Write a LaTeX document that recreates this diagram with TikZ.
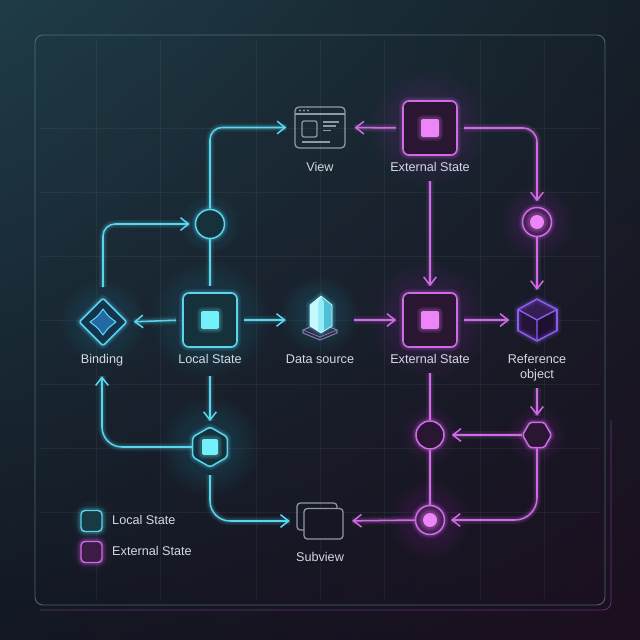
\documentclass[tikz,border=0pt]{standalone}
\usepackage{fontspec}
\setmainfont{Liberation Sans}
\usetikzlibrary{arrows.meta,shapes.geometric,calc,shadings}
\definecolor{cy}{HTML}{58D6EE}
\definecolor{cyb}{HTML}{74F0FA}
\definecolor{mg}{HTML}{D06AE6}
\definecolor{mgb}{HTML}{EB85F8}
\definecolor{cyfill}{HTML}{15313B}
\definecolor{mgfill}{HTML}{2A1533}
\definecolor{mgdark}{HTML}{4A2157}
\definecolor{bindfill}{HTML}{14344C}
\definecolor{bindin}{HTML}{2468A4}
\definecolor{txt}{HTML}{D3D9E1}
\definecolor{iconc}{HTML}{8E99A5}
\definecolor{vio}{HTML}{8C5CEE}
\definecolor{bgUL}{HTML}{1F3C47}
\definecolor{bgUR}{HTML}{152029}
\definecolor{bgLL}{HTML}{121722}
\definecolor{bgLR}{HTML}{1C0E1F}
\definecolor{framec}{HTML}{587884}
\definecolor{platec}{HTML}{7C7CA6}
\definecolor{platef}{HTML}{282842}
\definecolor{crysA}{HTML}{96ECF6}
\definecolor{crysL}{HTML}{C4F8FC}
\definecolor{crysR}{HTML}{50BED4}
\definecolor{crysE}{HTML}{C8FAFF}
\definecolor{cubeT}{HTML}{341E54}
\definecolor{cubeL}{HTML}{24143A}
\definecolor{cubeR}{HTML}{1E1030}
\definecolor{subf}{HTML}{161624}
\definecolor{legcf}{HTML}{183A44}
\definecolor{legmf}{HTML}{3A1C44}
\newcommand\myhalo[4]{\foreach \k in {1,...,14}{\fill[#4,opacity=0.013] (#1,#2) circle[radius={(#3)*(0.4+0.065*\k)*0.3mm}];}}
\tikzset{
  glow/.style={preaction={draw=#1,opacity=0.09,line width=7pt,-},preaction={draw=#1,opacity=0.16,line width=4pt,-}},
  cline/.style={draw=cy,line width=1.3pt,glow=cy},
  mline/.style={draw=mg,line width=1.3pt,glow=mg},
  arr/.style={-{Straight Barb[length=2.4mm,width=3.8mm]}},
  cbox/.style={rectangle,minimum size=16.2mm,inner sep=0,rounded corners=1.8mm,draw=cy,fill=cyfill,line width=1.4pt,glow=cy},
  mbox/.style={rectangle,minimum size=16.2mm,inner sep=0,rounded corners=1.8mm,draw=mg,fill=mgfill,line width=1.4pt,glow=mg},
  csq/.style={rectangle,minimum size=5.4mm,inner sep=0,rounded corners=0.6mm,fill=cyb,glow=cyb},
  msq/.style={rectangle,minimum size=5.4mm,inner sep=0,rounded corners=0.6mm,fill=mgb,glow=mgb},
  lbl/.style={text=txt,font=\fontsize{10.8}{12.8}\selectfont,inner sep=1pt,text height=8pt,text depth=2.5pt},
  lbl2/.style={text=txt,font=\fontsize{10.8}{12.8}\selectfont,inner sep=1pt,align=center},
  iconln/.style={draw=iconc,line width=1.1pt},
}
\begin{document}
\begin{tikzpicture}[x=0.3mm,y=-0.3mm]
\useasboundingbox (0,0) rectangle (640,640);
\shade[upper left=bgUL,upper right=bgUR,lower left=bgLL,lower right=bgLR] (0,0) rectangle (640,640);
% grid
\foreach \g in {128,192,256,320,384,448,512}
  \draw[white,opacity=0.05,line width=0.5pt] (40,\g) -- (600,\g);
\foreach \g in {96,160,256,320,384,480,544}
  \draw[white,opacity=0.05,line width=0.5pt] (\g,40) -- (\g,600);
% frame
\draw[mg,opacity=0.4,line width=0.7pt,rounded corners=2.4mm] (611,420) -- (611,610) -- (40,610);
\draw[framec,opacity=0.8,line width=0.8pt,rounded corners=2.4mm] (35,35) rectangle (605,605);
% halos
\myhalo{210}{320}{45}{cy}
\myhalo{210}{447}{38}{cy}
\myhalo{320}{315}{30}{cy}
\myhalo{210}{224}{22}{cy}
\myhalo{103}{322}{32}{cy}
\myhalo{430}{128}{45}{mg}
\myhalo{430}{320}{45}{mg}
\myhalo{430}{520}{30}{mg}
\myhalo{537}{222}{28}{mg}
\myhalo{430}{435}{22}{mg}
\myhalo{537}{435}{22}{mg}
\myhalo{91.5}{521}{16}{cy}
\myhalo{91.5}{552}{16}{mg}

% ---- nodes ----
\node[cbox] (local) at (210,320) {};
\node[csq] at (local) {};
\node[mbox] (ext1) at (430,128) {};
\node[msq] at (ext1) {};
\node[mbox] (ext2) at (430,320) {};
\node[msq] at (ext2) {};
\node[circle,minimum size=8.7mm,inner sep=0,draw=cy,fill=cyfill,line width=1.3pt,glow=cy] (c1) at (210,224) {};
\node[circle,minimum size=8.7mm,inner sep=0,draw=mg,fill=mgdark,line width=1.3pt,glow=mg] (m1) at (537,222) {};
\node[circle,minimum size=4.2mm,inner sep=0,fill=mgb,glow=mgb] at (m1) {};
\node[circle,minimum size=8.4mm,inner sep=0,draw=mg,fill=mgfill,line width=1.3pt,glow=mg] (m2) at (430,435) {};
\node[circle,minimum size=8.7mm,inner sep=0,draw=mg,fill=mgdark,line width=1.3pt,glow=mg] (dot) at (430,520) {};
\node[circle,minimum size=4.2mm,inner sep=0,fill=mgb,glow=mgb] at (dot) {};
\node[regular polygon,regular polygon sides=6,shape border rotate=90,minimum size=12mm,inner sep=0,draw=cy,fill=cyfill,line width=1.3pt,rounded corners=0.8mm,glow=cy] (hexc) at (210,447) {};
\node[rectangle,minimum size=4.8mm,inner sep=0,rounded corners=0.6mm,fill=cyb,glow=cyb] at (hexc) {};
\node[regular polygon,regular polygon sides=6,minimum size=8.7mm,inner sep=0,draw=mg,fill=mgfill,line width=1.3pt,rounded corners=0.5mm,glow=mg] (hexm) at (537,435) {};
\node[diamond,aspect=1,minimum width=14.4mm,minimum height=14.4mm,inner sep=0,draw=cy,fill=bindfill,line width=1.3pt,rounded corners=0.6mm,glow=cy] (binding) at (103,322) {};
\draw[cy,line width=0.9pt,fill=bindin,line join=round] (103,309) .. controls (108,316) .. (116,322) .. controls (108,328) .. (103,335) .. controls (98,328) .. (90,322) .. controls (98,316) .. cycle;

% view icon
\node[rectangle,minimum width=15mm,minimum height=12.3mm,inner sep=0,iconln,rounded corners=1.2mm] (view) at (320,127.5) {};
\draw[iconln,line width=1pt] (295,114) -- (345,114);
\foreach \xx in {300,304,308} \fill[iconc] (\xx,110.5) circle[radius=0.35mm];
\draw[iconln,rounded corners=0.6mm] (302,121) rectangle (317,137);
\draw[iconln] (323,122) -- (339,122);
\draw[iconln] (323,126) -- (336,126);
\draw[iconln] (323,130.5) -- (331,130.5);
\draw[iconln] (302,142) -- (330,142);

% data source
\node[minimum width=12mm,minimum height=14.4mm,inner sep=0] (data) at (320,320) {};
\draw[draw=platec,line width=0.9pt,fill=platef,line join=round] (303,330) -- (320,323) -- (337,330) -- (337,333) -- (320,340) -- (303,333) -- cycle;
\draw[draw=platec,line width=0.7pt,line join=round] (303,330) -- (320,337) -- (337,330) (320,337) -- (320,340);
\fill[crysA,glow=cy] (321,296) -- (332,305) -- (332,326) -- (321,333) -- (310,326) -- (310,305) -- cycle;
\fill[crysL] (321,296) -- (310,305) -- (310,326) -- (318,331) -- (318,303) -- cycle;
\fill[crysR] (321,296) -- (332,305) -- (332,326) -- (324,331) -- (324,302) -- cycle;
\draw[crysE,line width=0.6pt,line join=round] (321,296) -- (332,305) -- (332,326) -- (321,333) -- (310,326) -- (310,305) -- cycle;

% cube
\node[minimum width=11.7mm,minimum height=12.3mm,inner sep=0] (cube) at (537,320) {};
\fill[cubeT] (537,299) -- (557,309.5) -- (537,320) -- (518,309.5) -- cycle;
\fill[cubeL] (518,309.5) -- (537,320) -- (537,341) -- (518,330.5) -- cycle;
\fill[cubeR] (557,309.5) -- (537,320) -- (537,341) -- (557,330.5) -- cycle;
\draw[vio,line width=1.3pt,line join=round,glow=vio] (537,299) -- (557,309.5) -- (557,330.5) -- (537,341) -- (518,330.5) -- (518,309.5) -- cycle;
\draw[vio,line width=1.2pt,line join=round] (518,309.5) -- (537,320) -- (557,309.5) (537,320) -- (537,341);

% subview icon
\node[minimum width=13.8mm,minimum height=10.8mm,inner sep=0] (sub) at (320,521) {};
\draw[iconln,rounded corners=1mm] (297,503) rectangle (337,530);
\draw[iconln,rounded corners=1mm,fill=subf] (304,508.5) rectangle (343,539);

% labels
\node[lbl] (lview) at (320,168) {View};
\node[lbl] (lext1) at (430,168) {External State};
\node[lbl] (lbind) at (102,360) {Binding};
\node[lbl] (llocal) at (210,360) {Local State};
\node[lbl] (ldata) at (320,360) {Data source};
\node[lbl] (lext2) at (430,360) {External State};
\node[lbl2] (lcube) at (537,367.5) {Reference\\object};
\node[lbl] (lsub) at (320,558) {Subview};

% legend
\node[rectangle,minimum size=6.3mm,inner sep=0,rounded corners=1.2mm,draw=cy,fill=legcf,line width=1.2pt,glow=cy] (legl) at (91.5,521) {};
\node[rectangle,minimum size=6.3mm,inner sep=0,rounded corners=1.2mm,draw=mg,fill=legmf,line width=1.2pt,glow=mg] (lege) at (91.5,552) {};
\node[lbl,anchor=west,inner sep=0] (legltxt) at (112,521) {Local State};
\node[lbl,anchor=west,inner sep=0] (legetxt) at (112,552) {External State};

% ---- cyan connectors ----
\draw[cline,arr,rounded corners=3.6mm,shorten >=2.4mm] (c1.north) |- (view.west);
\draw[cline,arr,rounded corners=3.6mm,shorten <=3mm,shorten >=1.5mm] (binding.north) |- (c1.west);
\draw[cline,shorten <=1.8mm] (local.north) -- (c1.south);
\draw[cline,arr,shorten <=1.8mm,shorten >=1.8mm] (local.west) -- (binding.east);
\draw[cline,arr,shorten <=1.8mm,shorten >=4.2mm] (local.east) -- (data.west);
\draw[cline,arr,shorten <=2.6mm,shorten >=1.5mm] (llocal.south) -- (hexc.north);
\draw[cline,arr,rounded corners=6mm,shorten >=2.6mm] (hexc.west) -| (lbind.south);
\draw[cline,arr,rounded corners=6mm,shorten <=2.2mm,shorten >=2.1mm] (hexc.south) |- (sub.west);

% ---- magenta connectors ----
\draw[mline,arr,shorten <=4.2mm,shorten >=1.8mm] (data.east) -- (ext2.west);
\draw[mline,arr,shorten <=1.8mm,shorten >=2.4mm] (ext2.east) -- (cube.west);
\draw[mline,arr,shorten <=1.8mm,shorten >=2.7mm] (ext1.west) -- (view.east);
\draw[mline,arr,rounded corners=4.2mm,shorten <=1.8mm,shorten >=1.6mm] (ext1.east) -| (m1.north);
\draw[mline,arr,shorten >=2.8mm] (m1.south) -- (cube.north);
\draw[mline,arr,shorten <=1.7mm,shorten >=1.8mm] (lext1.south) -- (ext2.north);
\draw[mline,arr,shorten <=1.7mm,shorten >=1.8mm] (lcube.south) -- (hexm.north);
\draw[mline,shorten <=1.7mm] (lext2.south) -- (m2.north);
\draw[mline] (m2.south) -- (dot.north);
\draw[mline,arr,shorten >=2.1mm] (hexm.west) -- (m2.east);
\draw[mline,arr,rounded corners=6.6mm,shorten >=1.7mm] (hexm.south) |- (dot.east);
\draw[mline,arr,shorten >=2.7mm] (dot.west) -- (sub.east);
\end{tikzpicture}
\end{document}
